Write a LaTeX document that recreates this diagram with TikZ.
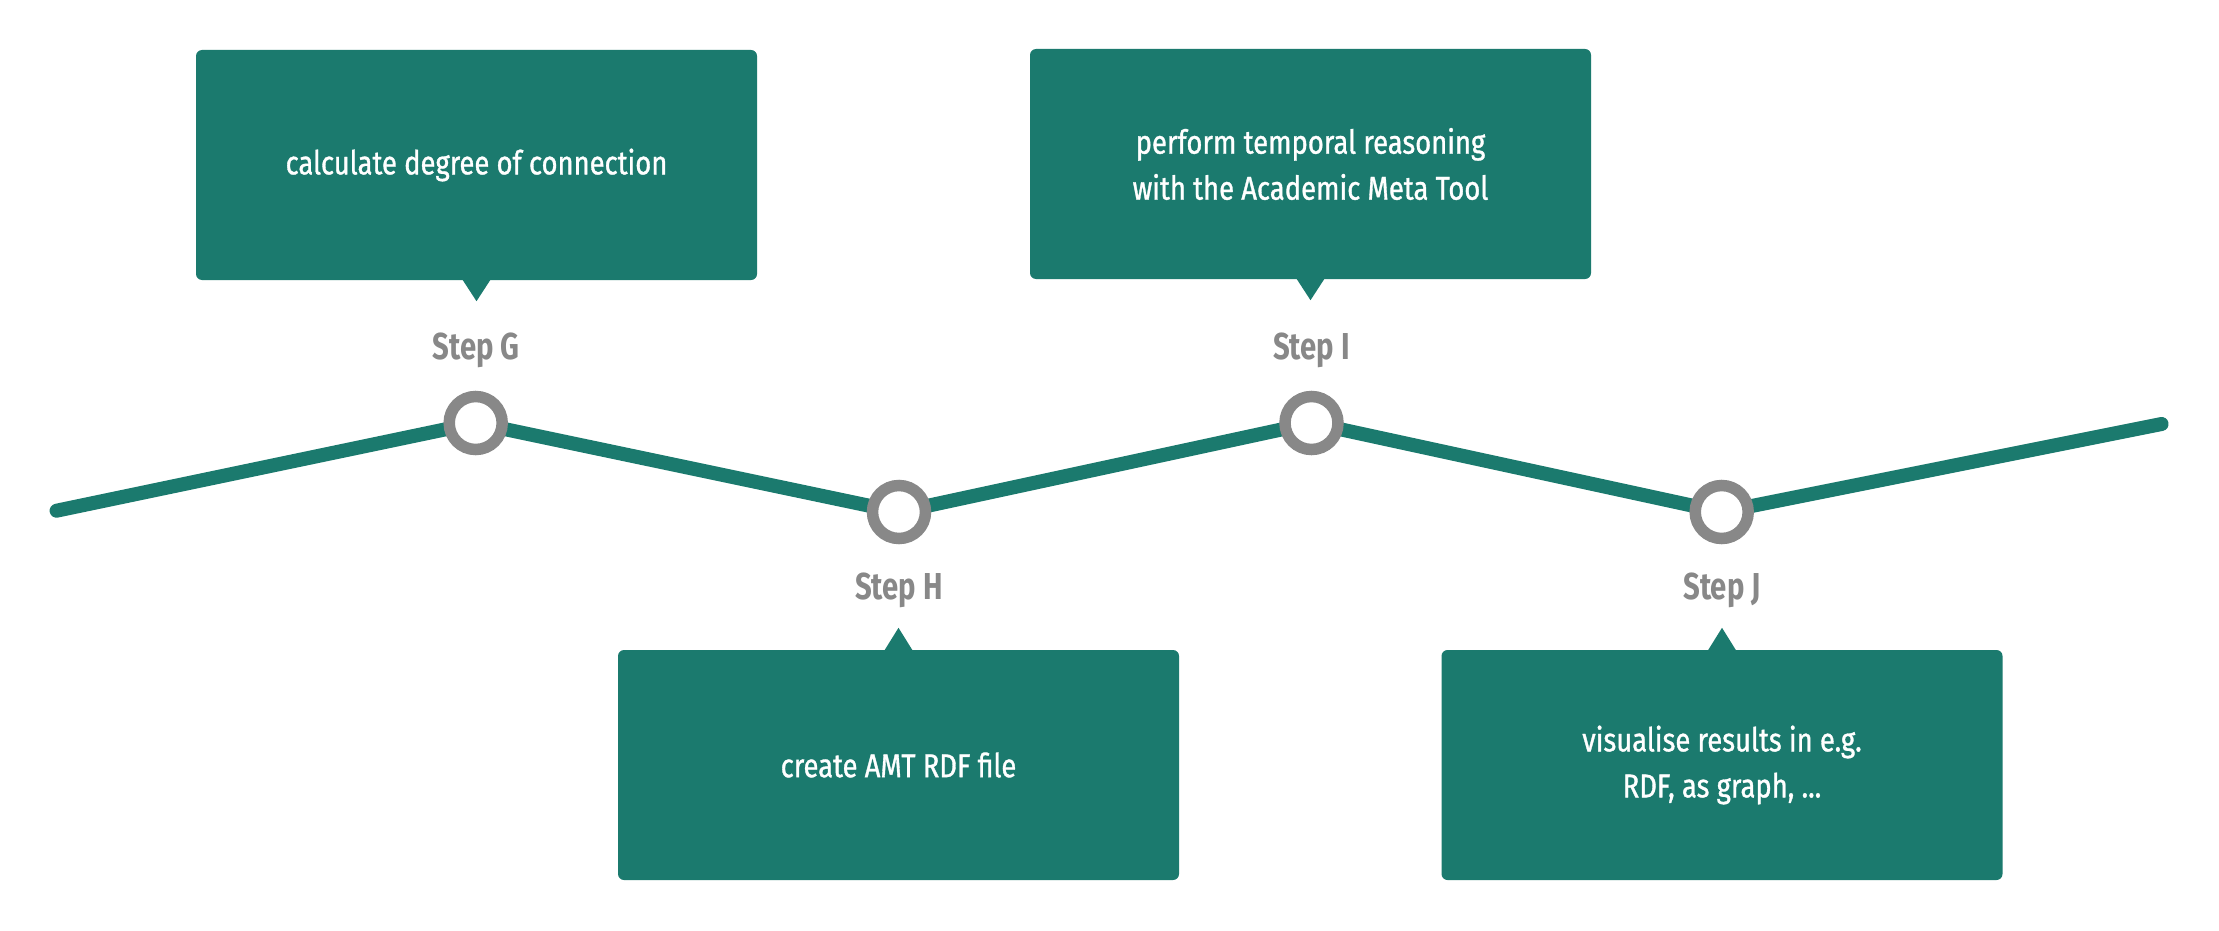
\documentclass[tikz,border=0pt]{standalone}
\usepackage{fontspec}
\setmainfont{Fira Sans}
\newfontfamily\boxfont[FakeStretch=0.83,FakeBold=1]{Fira Sans}
\newfontfamily\stepfont[FakeStretch=0.78]{Fira Sans}
\definecolor{tealc}{HTML}{1B7A6E}
\definecolor{grayc}{HTML}{888888}
\tikzset{
  stepbox/.style={fill=tealc, rounded corners=6pt, minimum width=561pt, minimum height=230pt,
    inner sep=0pt, text=white, align=center,
    font=\boxfont\fontsize{33pt}{46pt}\selectfont},
  stepdot/.style={circle, draw=grayc, line width=11.5pt, fill=white, minimum size=53pt, inner sep=0pt},
  steplabel/.style={anchor=base, text=grayc, inner sep=0pt,
    font=\stepfont\bfseries\fontsize{37.5pt}{40pt}\selectfont},
  pathline/.style={draw=tealc, line width=14pt, line cap=round, line join=round},
}
\begin{document}
\begin{tikzpicture}[x=1pt,y=-1pt]
\useasboundingbox[fill=white] (0,0) rectangle (2219,931);
% path
\coordinate (s) at (56.6,510.7);
\coordinate (e) at (2161.6,424);
\coordinate (pG) at (475.7,423);
\coordinate (pH) at (899,512);
\coordinate (pI) at (1311.5,423);
\coordinate (pJ) at (1721.7,512);
\draw[pathline] (s) -- (pG) -- (pH) -- (pI) -- (pJ) -- (e);
% dots
\node[stepdot] (dG) at (pG) {};
\node[stepdot] (dH) at (pH) {};
\node[stepdot] (dI) at (pI) {};
\node[stepdot] (dJ) at (pJ) {};
% labels
\node[steplabel] (lG) at (476,359) {Step G};
\node[steplabel] (lH) at (899,599) {Step H};
\node[steplabel] (lI) at (1311.5,359) {Step I};
\node[steplabel] (lJ) at (1722,599) {Step J};
% boxes
\node[stepbox] (bG) at (476.5,165) {calculate degree of connection};
\node[stepbox] (bI) at (1310.5,164) {perform temporal reasoning\\with the Academic Meta Tool};
\node[stepbox] (bH) at (898.5,765) {create AMT RDF file};
\node[stepbox] (bJ) at (1722,765) {visualise results in e.g.\\RDF, as graph, ...};
% pointers
\foreach \b in {bG,bI}{
  \fill[tealc] ([xshift=-14pt,yshift=0.5pt]\b.south) -- ([xshift=14pt,yshift=0.5pt]\b.south) -- ([yshift=-21pt]\b.south) -- cycle;
}
\foreach \b in {bH,bJ}{
  \fill[tealc] ([xshift=-14pt,yshift=-0.5pt]\b.north) -- ([xshift=14pt,yshift=-0.5pt]\b.north) -- ([yshift=22pt]\b.north) -- cycle;
}
\end{tikzpicture}
\end{document}
